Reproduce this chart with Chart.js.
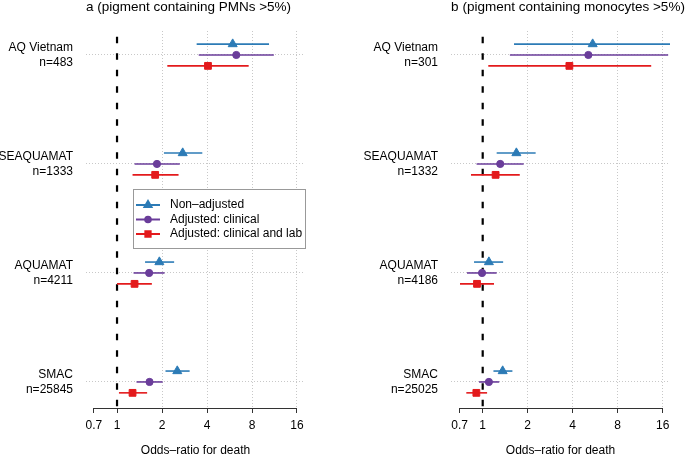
<!DOCTYPE html>
<html><head><meta charset="utf-8">
<script src="https://cdn.jsdelivr.net/npm/chart.js@4"></script>
<style>
html,body{margin:0;padding:0;background:#fff;overflow:hidden;}
#wrap{position:relative;width:685px;height:454px;}
#cA{position:absolute;left:0;top:0;}
#cB{position:absolute;left:340px;top:0;}
</style></head><body>
<div id="wrap"><canvas id="cA" width="340" height="454"></canvas><canvas id="cB" width="345" height="454"></canvas></div>
<script>
// ---- data ----
const studies = ['AQ Vietnam', 'SEAQUAMAT', 'AQUAMAT', 'SMAC'];
const nA = [483, 1333, 4211, 25845];
const nB = [301, 1332, 4186, 25025];
const rowPos = [4, 3, 2, 1];
const xTicks = [0.7, 1, 2, 4, 8, 16];
const seriesNames = ['Non\u2013adjusted', 'Adjusted: clinical', 'Adjusted: clinical and lab'];

// panel a (pigment containing PMNs >5%)
const nonAdjA   = [5.94, 2.75, 1.92, 2.53];
const nonAdjALo = [3.41, 2.06, 1.54, 2.11];
const nonAdjAHi = [10.4, 3.72, 2.41, 3.06];
const clinA     = [6.28, 1.85, 1.64, 1.65];
const clinALo   = [3.52, 1.31, 1.29, 1.35];
const clinAHi   = [11.2, 2.63, 2.08, 2.02];
const labA      = [4.06, 1.80, 1.31, 1.27];
const labALo    = [2.17, 1.27, 1.00, 1.03];
const labAHi    = [7.6, 2.58, 1.71, 1.59];

// panel b (pigment containing monocytes >5%)
const nonAdjB   = [5.44, 1.68, 1.10, 1.36];
const nonAdjBLo = [1.62, 1.24, 0.875, 1.18];
const nonAdjBHi = [18.1, 2.26, 1.37, 1.58];
const clinB     = [5.09, 1.31, 0.99, 1.10];
const clinBLo   = [1.52, 0.91, 0.785, 0.945];
const clinBHi   = [17.4, 1.88, 1.24, 1.29];
const labB      = [3.80, 1.22, 0.916, 0.907];
const labBLo    = [1.09, 0.835, 0.705, 0.777];
const labBHi    = [13.4, 1.77, 1.19, 1.07];

// ---- style ----
const FONT = "'Liberation Sans', Arial, Helvetica, sans-serif";
const colors = ['#2c7bb6', '#6a3d9a', '#e31a1c'];
const styles = ['triangle', 'circle', 'rect'];
const radii = [5.2, 3.6, 4.8];
const offsets = [0.1, 0, -0.1];

Chart.defaults.font.family = FONT;
Chart.defaults.color = '#000';

const errorBars = {
  id: 'errorBars',
  beforeDatasetsDraw(chart) {
    const {ctx, chartArea: a, scales: {x, y}} = chart;
    ctx.save();
    ctx.beginPath(); ctx.rect(a.left, a.top - 5, a.right - a.left, a.bottom - a.top + 10); ctx.clip();
    // reference line at OR = 1
    const x1 = x.getPixelForValue(1);
    ctx.strokeStyle = '#000'; ctx.lineWidth = 2.2;
    ctx.setLineDash([6.5, 10]); ctx.lineDashOffset = 10.8;
    ctx.beginPath(); ctx.moveTo(x1, a.top); ctx.lineTo(x1, a.bottom); ctx.stroke();
    ctx.setLineDash([]);
    chart.data.datasets.forEach(ds => {
      ctx.strokeStyle = ds.borderColor; ctx.lineWidth = 1.6;
      ds.data.forEach((p, i) => {
        const py = y.getPixelForValue(p.y);
        ctx.beginPath();
        ctx.moveTo(x.getPixelForValue(ds.lo[i]), py);
        ctx.lineTo(x.getPixelForValue(ds.hi[i]), py);
        ctx.stroke();
      });
    });
    ctx.restore();
  },
  afterDraw(chart) {
    const {ctx, chartArea: a, scales: {x}} = chart;
    ctx.save();
    ctx.strokeStyle = '#333'; ctx.lineWidth = 1;
    ctx.beginPath();
    ctx.moveTo(x.getPixelForValue(xTicks[0]), a.bottom + 0.5);
    ctx.lineTo(x.getPixelForValue(xTicks[xTicks.length - 1]), a.bottom + 0.5);
    ctx.stroke();
    const t = chart.options.plugins.panelTitle;
    ctx.fillStyle = '#000';
    ctx.font = '13.5px ' + FONT;
    ctx.textAlign = 'center'; ctx.textBaseline = 'middle';
    ctx.fillText(t.text, t.x, t.y);
    const lg = chart.options.plugins.customLegend;
    if (lg && lg.show) {
      ctx.fillStyle = '#fff'; ctx.strokeStyle = '#999'; ctx.lineWidth = 1;
      ctx.fillRect(lg.x, lg.y, lg.w, lg.h);
      ctx.strokeRect(lg.x + 0.5, lg.y + 0.5, lg.w, lg.h);
      seriesNames.forEach((name, i) => {
        const yy = lg.y + lg.first + i * lg.step;
        ctx.strokeStyle = colors[i]; ctx.lineWidth = 2;
        ctx.beginPath(); ctx.moveTo(lg.x + 3, yy); ctx.lineTo(lg.x + 27, yy); ctx.stroke();
        Chart.helpers.drawPoint(ctx, {pointStyle: styles[i], radius: radii[i] * 0.78, borderWidth: 1, rotation: 0},
          lg.x + 15, yy);
        ctx.fillStyle = colors[i];
        ctx.beginPath();
        Chart.helpers.drawPoint(ctx, {pointStyle: styles[i], radius: radii[i] * 0.78, borderWidth: 0, rotation: 0}, lg.x + 15, yy);
        ctx.fillStyle = '#000'; ctx.font = '12px ' + FONT;
        ctx.textAlign = 'left'; ctx.textBaseline = 'middle';
        ctx.fillText(name, lg.x + 37, yy);
      });
    }
    ctx.restore();
  }
};

function makeDatasets(vals, los, his) {
  return vals.map((v, s) => ({
    label: seriesNames[s],
    data: v.map((val, i) => ({x: val, y: rowPos[i] + offsets[s]})),
    lo: los[s], hi: his[s],
    pointStyle: styles[s], pointRadius: radii[s], pointHoverRadius: radii[s],
    backgroundColor: colors[s], borderColor: colors[s], borderWidth: 1,
    showLine: false
  }));
}

function makeChart(id, datasets, ns, cfg) {
  return new Chart(document.getElementById(id), {
    type: 'scatter',
    data: {datasets},
    plugins: [errorBars],
    options: {
      responsive: false, animation: false, devicePixelRatio: 1,
      layout: {padding: {top: 31, right: cfg.padRight, left: 0, bottom: 0}},
      plugins: {
        legend: {display: false}, tooltip: {enabled: false},
        panelTitle: cfg.title, customLegend: cfg.legend
      },
      scales: {
        x: {
          type: 'logarithmic', min: cfg.xmin, max: cfg.xmax, bounds: 'data',
          afterBuildTicks: s => { s.ticks = xTicks.map(v => ({value: v})); },
          afterFit: s => { s.height = 46; },
          ticks: {callback: v => String(v), autoSkip: false, maxRotation: 0, padding: 5,
                  font: {size: 12}, color: '#000'},
          grid: {
            color: c => (c.tick && c.tick.value <= 1) ? 'rgba(0,0,0,0)' : '#c8c8c8',
            tickColor: '#333', tickLength: 5, lineWidth: 1, drawTicks: true
          },
          border: {display: false, dash: [1, 2]},
          title: {display: true, text: 'Odds\u2013ratio for death', font: {size: 12, lineHeight: 0.5},
                  padding: 0, color: '#000'}
        },
        y: {
          type: 'linear', min: 0.761, max: 4.22, bounds: 'data',
          afterBuildTicks: s => { s.ticks = rowPos.map(v => ({value: v})); },
          afterFit: s => { s.width = cfg.yWidth; },
          ticks: {
            callback: v => { const i = rowPos.indexOf(v); return [studies[i], 'n=' + ns[i]]; },
            padding: 13, font: {size: 12, lineHeight: 1.25}, color: '#000', crossAlign: 'near'
          },
          grid: {color: '#c8c8c8', drawTicks: false, lineWidth: 1},
          border: {display: false, dash: [1, 2]}
        }
      }
    }
  });
}

makeChart('cA',
  makeDatasets([nonAdjA, clinA, labA], [nonAdjALo, clinALo, labALo], [nonAdjAHi, clinAHi, labAHi]),
  nA,
  {padRight: 35, yWidth: 86, xmin: 0.620, xmax: 18.1,
   title: {text: 'a (pigment containing PMNs >5%)', x: 188.5, y: 7},
   legend: {show: true, x: 133, y: 189, w: 172, h: 59, first: 16, step: 14.5}});

makeChart('cB',
  makeDatasets([nonAdjB, clinB, labB], [nonAdjBLo, clinBLo, labBLo], [nonAdjBHi, clinBHi, labBHi]),
  nB,
  {padRight: 15, yWidth: 111, xmin: 0.6137, xmax: 17.9,
   title: {text: 'b (pigment containing monocytes >5%)', x: 228, y: 7},
   legend: {show: false}});
</script>
</body></html>
